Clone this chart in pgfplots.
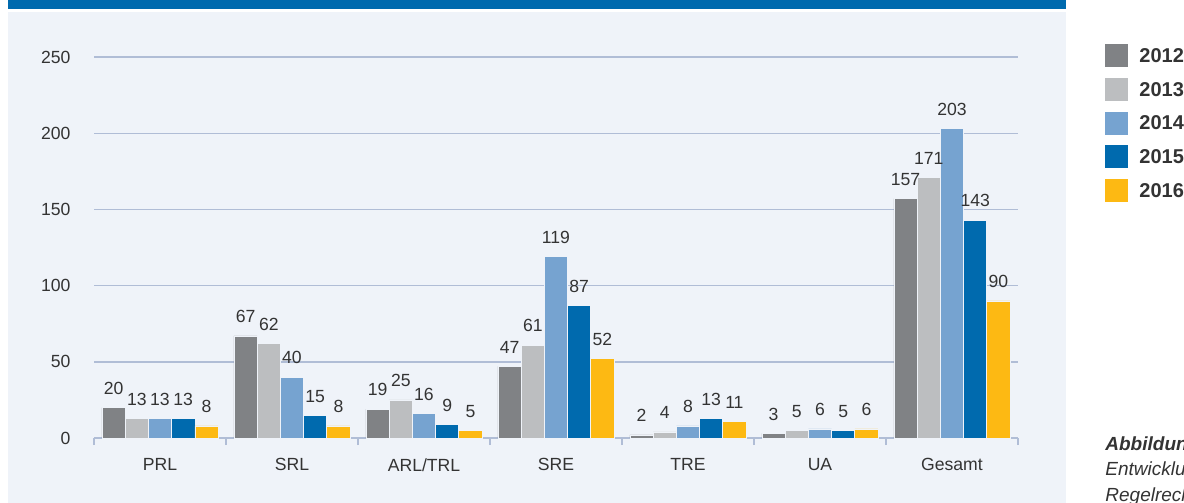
\documentclass[border=0pt]{standalone}
\usepackage{fontspec}
\setmainfont{Liberation Sans}
\usepackage{pgfplots}
\pgfplotsset{compat=1.18}
\definecolor{band}{HTML}{006AAE}
\definecolor{panel}{HTML}{EFF3F9}
\definecolor{gridc}{HTML}{B0BDD6}
\definecolor{txt}{HTML}{333333}
\definecolor{cA}{HTML}{808285}
\definecolor{cB}{HTML}{BCBEC0}
\definecolor{cC}{HTML}{76A3D0}
\definecolor{cD}{HTML}{006AAE}
\definecolor{cE}{HTML}{FDB913}
\begin{document}
\begin{tikzpicture}
\useasboundingbox (0,0) rectangle (592pt,-251.5pt);
\fill[band] (4pt,0) rectangle (533pt,-4.5pt);
\fill[panel] (4pt,-6pt) rectangle (533pt,-251.5pt);
\begin{axis}[
  at={(47pt,-219pt)}, anchor=south west,
  scale only axis, width=462pt, height=190.5pt,
  xmin=-0.5, xmax=6.5, ymin=0, ymax=250,
  ybar=0pt, bar width=11.6pt,
  axis x line*=bottom, axis y line*=left,
  x axis line style={draw=gridc, line width=0.7pt},
  y axis line style={draw=none},
  xtick={0,...,6},
  xticklabels={PRL,SRL,ARL/TRL,SRE,TRE,UA,Gesamt},
  minor xtick={-0.5,0.5,...,6.5},
  xtick style={draw=none},
  minor x tick style={draw=gridc, line width=0.7pt},
  minor tick length=3.5pt,
  tick align=outside,
  ytick={0,50,...,250},
  ytick style={draw=none},
  ymajorgrids, grid style={draw=gridc, line width=0.7pt},
  /pgf/number format/assume math mode=true,
  tick label style={font=\fontsize{8.8}{10}\selectfont, text=txt},
  yticklabel style={xshift=-4pt},
  xticklabel style={yshift=-2.5pt},
  nodes near coords,
  every node near coord/.append style={font=\fontsize{8.8}{10}\selectfont, text=txt, yshift=3pt},
  clip=false,
]
\addplot[fill=cA, draw=panel, line width=0.3pt] coordinates {(0,20) (1,67) (2,19) (3,47) (4,2) (5,3) (6,157)};
\addplot[fill=cB, draw=panel, line width=0.3pt] coordinates {(0,13) (1,62) (2,25) (3,61) (4,4) (5,5) (6,171)};
\addplot[fill=cC, draw=panel, line width=0.3pt] coordinates {(0,13) (1,40) (2,16) (3,119) (4,8) (5,6) (6,203)};
\addplot[fill=cD, draw=panel, line width=0.3pt] coordinates {(0,13) (1,15) (2,9) (3,87) (4,13) (5,5) (6,143)};
\addplot[fill=cE, draw=panel, line width=0.3pt] coordinates {(0,8) (1,8) (2,5) (3,52) (4,11) (5,6) (6,90)};
\end{axis}
\foreach \c/\y [count=\i from 0] in {cA/2012,cB/2013,cC/2014,cD/2015,cE/2016}{
  \fill[\c] (552.5pt,{-22pt-\i*16.9pt}) rectangle ++(11.5pt,-11.5pt);
  \node[anchor=west, inner sep=0pt, text=txt, font=\bfseries\fontsize{10}{12}\selectfont] at (569.5pt,{-27.75pt-\i*16.9pt}) {\y};
}
\node[anchor=base west, inner sep=0pt, text=txt, font=\bfseries\itshape\fontsize{9.5}{11}\selectfont] at (552.5pt,-225pt) {Abbildung 5:};
\node[anchor=base west, inner sep=0pt, text=txt, font=\itshape\fontsize{9.5}{11}\selectfont] at (552.5pt,-237.5pt) {Entwicklung der};
\node[anchor=base west, inner sep=0pt, text=txt, font=\itshape\fontsize{9.5}{11}\selectfont] at (552.5pt,-250.5pt) {Regelrechtsakte};
\end{tikzpicture}
\end{document}
